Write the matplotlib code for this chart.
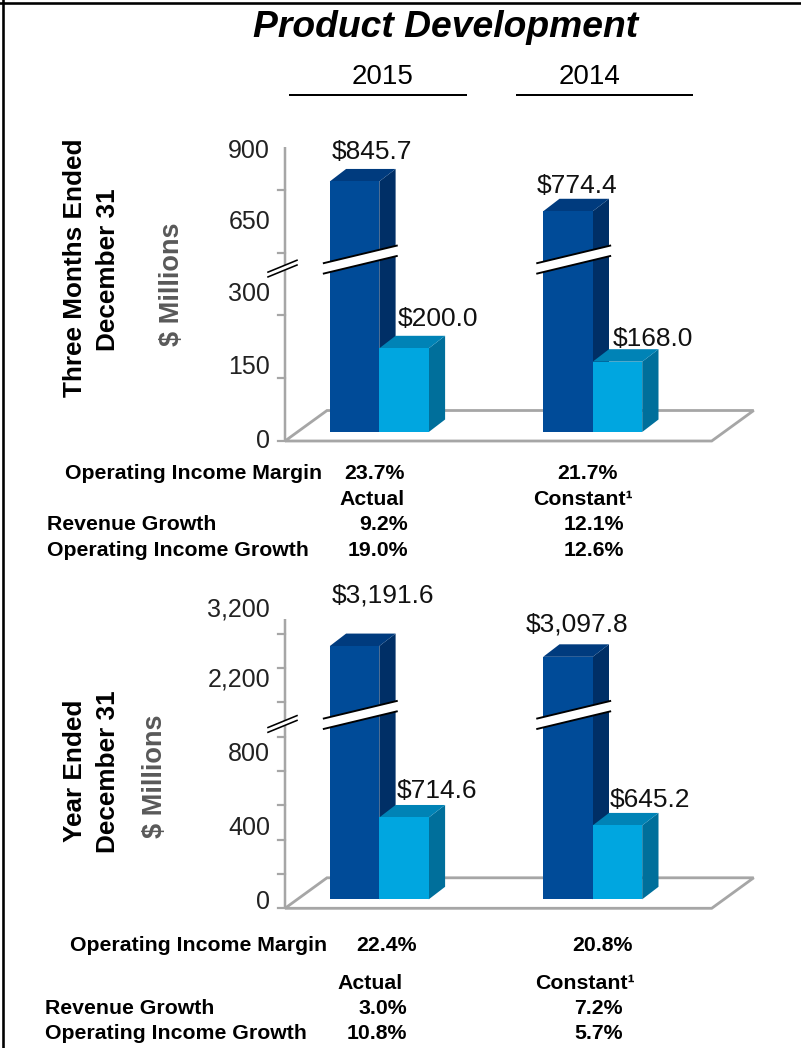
import matplotlib
matplotlib.use("Agg")
import matplotlib.pyplot as plt
from matplotlib.patches import Polygon
from matplotlib.lines import Line2D
import numpy as np

plt.rcParams["font.family"] = ["Liberation Sans", "DejaVu Sans"]

# ---------------- data ----------------
title = "Product Development"
years = ["2015", "2014"]

q_revenue = [845.7, 774.4]      # three months, dark bars
q_income = [200.0, 168.0]       # three months, light bars
y_revenue = [3191.6, 3097.8]    # full year, dark bars
y_income = [714.6, 645.2]       # full year, light bars

q_tick_values = [0, 150, 300, 650, 900]
q_tick_labels = ["0", "150", "300", "650", "900"]
y_tick_values = [0, 400, 800, 2200, 3200]
y_tick_labels = ["0", "400", "800", "2,200", "3,200"]

q_side_title = ["Three Months Ended", "December 31"]
y_side_title = ["Year Ended", "December 31"]
unit_label = "$ Millions"

metric_labels = ["Operating Income Margin", "Revenue Growth", "Operating Income Growth"]
basis_labels = ["Actual", "Constant\u00b9"]
q_margin = ["23.7%", "21.7%"]
q_rev_growth = ["9.2%", "12.1%"]
q_oi_growth = ["19.0%", "12.6%"]
y_margin = ["22.4%", "20.8%"]
y_rev_growth = ["3.0%", "7.2%"]
y_oi_growth = ["10.8%", "5.7%"]

# ---------------- style / layout ----------------
W, H, DPI = 801, 1048, 100
PT = 72.0 / DPI
DARK = dict(front="#004B98", side="#002F66", top="#003B7E")
LIGHT = dict(front="#00A6E0", side="#006F9B", top="#0083B6")
GRID_GRAY = "#A6A6A6"
TXT = "#111111"

SX = 213.4          # px per category step
X0 = 379.3          # px of category 0 (dark/light boundary)
BAR_W = 49.5 / SX
DEPTH = (16.3, 12.5)          # bar depth (px right, px up)
FLOOR_FRONT, FLOOR_BACK, FLOOR_DX = 9.0, 21.5, 42.0
AXIS_X_PX, FLOOR_RIGHT_PX = 285.0, 711.7

fig = plt.figure(figsize=(W / DPI, H / DPI), dpi=DPI)
fig.patch.set_facecolor("white")


def fx(x):
    return x / W


def fy(y):
    return 1 - y / H


def em(fs):
    return fs / PT


def htext(x, yc, s, fs, **kw):
    fig.text(fx(x), fy(yc + 0.358 * em(fs)), s, fontsize=fs, va="baseline", **kw)


def vtext(xb, yc, s, fs, **kw):
    fig.text(fx(xb), fy(yc), s, fontsize=fs, rotation=90, rotation_mode="anchor",
             ha="center", va="baseline", **kw)


def panel(top_px, bot_px, base_px, sy, brk, revenue, income, tick_step, axis_top,
          nudges, tick_values, tick_labels, label_anchor_v, label_anchor_px):
    ax = fig.add_axes([0, fy(bot_px), 1, (bot_px - top_px) / H])
    ax.set_xlim((0 - X0) / SX, (W - X0) / SX)
    ax.set_ylim((base_px - bot_px) / sy, (base_px - top_px) / sy)
    ax.axis("off")

    def disp(v):
        return v if v <= brk[0] else v - (brk[1] - brk[0])

    def ux(px):
        return px / SX

    def uy(px):
        return px / sy

    # floor
    xl = ux(AXIS_X_PX - X0)
    xr = ux(FLOOR_RIGHT_PX - X0)
    yf = -uy(FLOOR_FRONT)
    yb = uy(FLOOR_BACK)
    fdx = ux(FLOOR_DX)
    ax.add_patch(Polygon([(xl, yf), (xr, yf), (xr + fdx, yb), (xl + fdx, yb)],
                         closed=True, facecolor="white", edgecolor=GRID_GRAY,
                         lw=2.8 * PT, zorder=1, joinstyle="miter"))
    # value axis
    ax.plot([xl, xl], [yf, yf + axis_top], color=GRID_GRAY, lw=2.5 * PT, zorder=1,
            solid_capstyle="butt")
    for t in np.arange(0, axis_top, tick_step):
        ax.plot([xl - ux(7), xl], [yf + t, yf + t], color=GRID_GRAY, lw=2.2 * PT, zorder=1)
    # axis break
    cx, cy = xl - ux(2.5), yf + brk[0]
    hl, k, gap = 14.5, 0.41, 2.4
    pts_up = [(cx - ux(hl), cy - uy(k * hl) + uy(gap)), (cx + ux(hl), cy + uy(k * hl) + uy(gap))]
    pts_dn = [(cx - ux(hl), cy - uy(k * hl) - uy(gap)), (cx + ux(hl), cy + uy(k * hl) - uy(gap))]
    ax.add_patch(Polygon([pts_up[0], pts_up[1], pts_dn[1], pts_dn[0]], closed=True,
                         facecolor="white", edgecolor="none", zorder=2))
    for seg in (pts_up, pts_dn):
        ax.plot([seg[0][0], seg[1][0]], [seg[0][1], seg[1][1]], color="black",
                lw=1.6 * PT, zorder=2)

    ddx, ddy = ux(DEPTH[0]), uy(DEPTH[1])
    z = 3
    for i in range(len(revenue)):
        for j, (val, cols, x_left) in enumerate(((revenue[i], DARK, i - BAR_W),
                                                 (income[i], LIGHT, i))):
            h = disp(val)
            xr_b = x_left + BAR_W
            ax.add_patch(Polygon([(xr_b, 0), (xr_b + ddx, ddy), (xr_b + ddx, h + ddy), (xr_b, h)],
                                 closed=True, facecolor=cols["side"], edgecolor="none", zorder=z))
            ax.add_patch(Polygon([(x_left, h), (xr_b, h), (xr_b + ddx, h + ddy), (x_left + ddx, h + ddy)],
                                 closed=True, facecolor=cols["top"], edgecolor="none", zorder=z))
            ax.bar(x_left, h, width=BAR_W, align="edge", color=cols["front"], lw=0, zorder=z + 0.5)
            z += 1
            # value label
            s = "${:,.1f}".format(val)
            fs = 19
            ndx, ndy = nudges[j][i]
            ax.annotate(s, xy=(x_left + BAR_W / 2, h),
                        xytext=(ndx * PT, (ndy - 0.358 * em(fs)) * PT),
                        textcoords="offset points", ha="center", va="baseline",
                        fontsize=fs, color=TXT, zorder=20, annotation_clip=False)
            if j == 0 and val > brk[1]:
                # break band across the dark bar
                left = x_left - ux(6)
                right = xr_b + ux(17.5)
                L = (right - left) * SX
                kk, th = 0.24, 5.2
                yc = brk[0]
                up = [(left, yc - uy(kk * L / 2) + uy(th)), (right, yc + uy(kk * L / 2) + uy(th))]
                dn = [(left, yc - uy(kk * L / 2) - uy(th)), (right, yc + uy(kk * L / 2) - uy(th))]
                ax.add_patch(Polygon([up[0], up[1], dn[1], dn[0]], closed=True,
                                     facecolor="white", edgecolor="none", zorder=15))
                for seg in (up, dn):
                    ax.plot([seg[0][0], seg[1][0]], [seg[0][1], seg[1][1]], color="black",
                            lw=1.9 * PT, zorder=16)
    # tick labels (hand-placed on the faux broken axis)
    for v, lab in zip(tick_values, tick_labels):
        yc = float(np.interp(v, label_anchor_v, label_anchor_px))
        htext(270, yc, lab, 18, ha="right", color="#222222")
    return ax


# ---------------- header ----------------
fig.add_artist(Line2D([fx(0), fx(W)], [fy(2.5), fy(2.5)], color="black", lw=2.6 * PT))
fig.add_artist(Line2D([fx(3), fx(3)], [fy(0), fy(H)], color="black", lw=2.6 * PT))

fig.text(fx(446), fy(37.3), title, fontsize=26.8, fontweight="bold", fontstyle="italic",
         ha="center", va="baseline", color="black")
for s, xc, (u0, u1) in zip(years, [382.5, 590.0], [(290, 466), (517, 692)]):
    fig.text(fx(xc), fy(84.5), s, fontsize=20, ha="center", va="baseline", color="black")
    fig.add_artist(Line2D([fx(u0), fx(u1)], [fy(95), fy(95)], color="black", lw=2.0 * PT))

# ---------------- panels ----------------
panel(110, 455, 432.0, 0.4185, (412, 659), q_revenue, q_income, 150, 702,
      nudges=[[(17.9, 31.7), (9.5, 27.7)], [(33.9, 31.3), (35.5, 24.7)]],
      tick_values=q_tick_values, tick_labels=q_tick_labels,
      label_anchor_v=[0, 300, 650, 900], label_anchor_px=[439, 292, 220, 149])

panel(575, 925, 899.3, 0.1145, (1610, 2590), y_revenue, y_income, 300, 2530,
      nudges=[[(28.9, 53.0), (9.2, 34.7)], [(33.2, 29.3), (32.5, 27.7)]],
      tick_values=y_tick_values, tick_labels=y_tick_labels,
      label_anchor_v=[0, 800, 2200, 3200], label_anchor_px=[900, 752, 678, 608])

# ---------------- side titles ----------------
vtext(82, 268, q_side_title[0], 18.8, fontweight="bold", color="black")
vtext(115, 270, q_side_title[1], 18.8, fontweight="bold", color="black")
vtext(179, 284, unit_label, 19.5, fontweight="bold", color="#595959")
vtext(82, 771, y_side_title[0], 18.8, fontweight="bold", color="black")
vtext(115, 772, y_side_title[1], 18.8, fontweight="bold", color="black")
vtext(162, 776, unit_label, 19.5, fontweight="bold", color="#595959")

# ---------------- tables ----------------
TFS = 15.3
kw = dict(fontweight="bold", color="black")
# three months
htext(65, 471, metric_labels[0], TFS, ha="left", **kw)
htext(405, 471, q_margin[0], TFS, ha="right", **kw)
htext(587, 471, q_margin[1], TFS, ha="center", **kw)
htext(405, 497, basis_labels[0], TFS, ha="right", **kw)
htext(583, 497, basis_labels[1], TFS, ha="center", **kw)
htext(47, 522, metric_labels[1], TFS, ha="left", **kw)
htext(408, 522, q_rev_growth[0], TFS, ha="right", **kw)
htext(624, 522, q_rev_growth[1], TFS, ha="right", **kw)
htext(47, 548, metric_labels[2], TFS, ha="left", **kw)
htext(408, 548, q_oi_growth[0], TFS, ha="right", **kw)
htext(624, 548, q_oi_growth[1], TFS, ha="right", **kw)
# full year
htext(70, 943, metric_labels[0], TFS, ha="left", **kw)
htext(417, 943, y_margin[0], TFS, ha="right", **kw)
htext(633, 943, y_margin[1], TFS, ha="right", **kw)
htext(403, 981, basis_labels[0], TFS, ha="right", **kw)
htext(635, 981, basis_labels[1], TFS, ha="right", **kw)
htext(45, 1006.7, metric_labels[1], TFS, ha="left", **kw)
htext(407, 1006.7, y_rev_growth[0], TFS, ha="right", **kw)
htext(623, 1006.7, y_rev_growth[1], TFS, ha="right", **kw)
htext(45, 1031.7, metric_labels[2], TFS, ha="left", **kw)
htext(407, 1031.7, y_oi_growth[0], TFS, ha="right", **kw)
htext(623, 1031.7, y_oi_growth[1], TFS, ha="right", **kw)

fig.savefig("out.png", dpi=DPI, facecolor="white")
